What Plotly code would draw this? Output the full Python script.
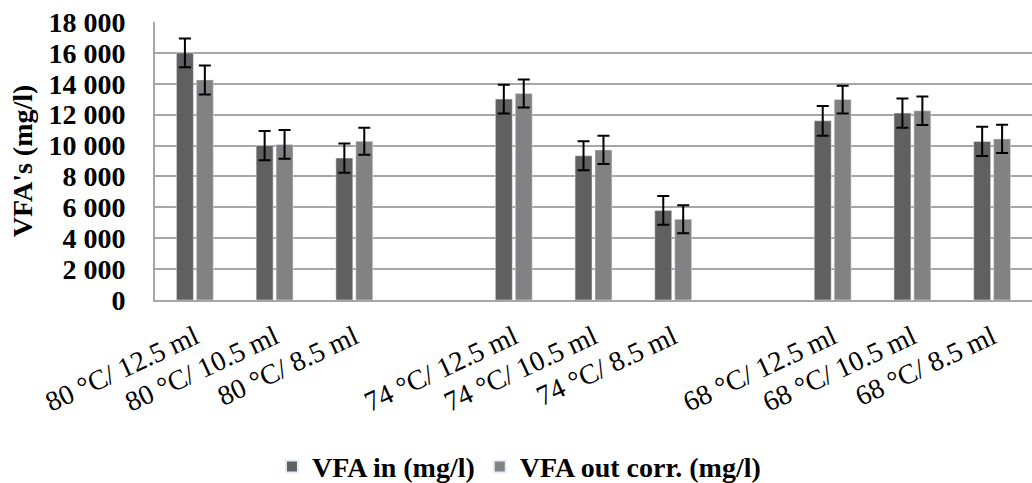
import plotly.graph_objects as go

categories = ["80 °C/ 12.5 ml", "80 °C/ 10.5 ml", "80 °C/ 8.5 ml", " ",
              "74 °C/ 12.5 ml", "74 °C/ 10.5 ml", "74 °C/ 8.5 ml", "  ",
              "68 °C/ 12.5 ml", "68 °C/ 10.5 ml", "68 °C/ 8.5 ml"]
vfa_in = [16000, 10000, 9190, None, 13010, 9340, 5800, None, 11600, 12100, 10270]
vfa_in_err = [930, 950, 950, None, 930, 940, 930, None, 960, 950, 950]
vfa_out = [14250, 10070, 10280, None, 13370, 9720, 5230, None, 12980, 12250, 10430]
vfa_out_err = [940, 930, 880, None, 900, 920, 900, None, 900, 920, 910]
y_ticks = [0, 2000, 4000, 6000, 8000, 10000, 12000, 14000, 16000, 18000]

serif = "Liberation Serif"

fig = go.Figure()
fig.add_trace(go.Bar(
    x=categories, y=vfa_in, name="<b>VFA in (mg/l)</b>",
    marker=dict(color="#606060"),
    error_y=dict(type="data", array=vfa_in_err, visible=True,
                 color="#000000", thickness=2, width=6),
))
fig.add_trace(go.Bar(
    x=categories, y=vfa_out, name="<b>VFA out corr. (mg/l)</b>",
    marker=dict(color="#828282"),
    error_y=dict(type="data", array=vfa_out_err, visible=True,
                 color="#000000", thickness=2, width=6),
))

fig.update_layout(
    width=1032, height=483,
    margin=dict(l=155, r=0, t=22, b=183, autoexpand=False),
    paper_bgcolor="white", plot_bgcolor="white",
    barmode="group", bargap=0.5, bargroupgap=0.15,
    separators=". ",
    font=dict(family=serif, color="#000000", size=26),
    showlegend=True,
    legend=dict(orientation="h", x=0.415, xanchor="center", y=-0.6,
                yanchor="middle", font=dict(family=serif, size=28),
                itemsizing="constant", traceorder="normal"),
)
fig.update_xaxes(
    type="category", tickangle=-25, showgrid=False,
    showline=True, linecolor="#a6a6a6", linewidth=2,
    tickfont=dict(family=serif, size=28), ticks="",
    ticklabelstandoff=8,
    automargin=False,
)
fig.update_yaxes(
    range=[0, 18000], tickvals=y_ticks, tickformat=",d",
    showgrid=True, gridcolor="#a6a6a6", gridwidth=2,
    showline=True, linecolor="#a6a6a6", linewidth=2,
    zeroline=False, ticks="", ticklabelstandoff=22,
    tickfont=dict(family=serif, size=28, weight="bold"),
    title=dict(text="<b>VFA's (mg/l)</b>", standoff=8,
               font=dict(family=serif, size=28)),
    automargin=False,
)

fig.write_html("out.html")
